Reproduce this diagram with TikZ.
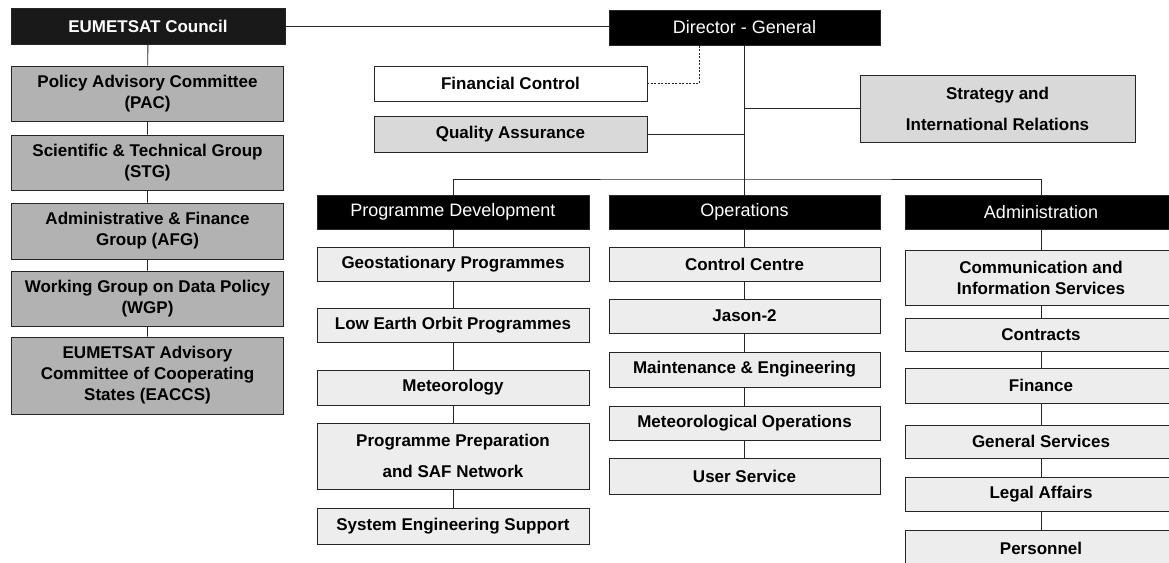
\documentclass[tikz,border=0pt]{standalone}
\usepackage{fontspec}
\setmainfont{Liberation Sans}
\usetikzlibrary{calc}
\begin{document}
\begin{tikzpicture}[x=1pt,y=-1pt,
  box/.style={draw=black!85, line width=0.9pt, inner sep=0pt, align=center,
    minimum width=272pt, font=\fontsize{17}{21}\selectfont\bfseries},
  head/.style={box, fill=black, text=white, font=\fontsize{18}{21}\selectfont},
  board/.style={box, fill=black!30},
  unit/.style={box, fill=black!7},
  staff/.style={box, fill=black!15},
  link/.style={draw=black!85, line width=0.9pt},
  dotlink/.style={link, dash pattern=on 2pt off 1.5pt},
  ]
\useasboundingbox (0,0) rectangle (1169,562);

% governing bodies
\node[head, fill=black!90, font=\fontsize{17}{21}\selectfont\bfseries,
      minimum width=274pt, minimum height=36pt] (council) at (148,26) {EUMETSAT Council};
\node[board, minimum height=55pt] (pac) at (147.5,93.5) {Policy Advisory Committee\\(PAC)};
\node[board, minimum height=55pt] (stg) at (147.5,162.5) {Scientific \& Technical Group\\(STG)};
\node[board, minimum height=56pt] (afg) at (147.5,231) {Administrative \& Finance\\Group (AFG)};
\node[board, minimum height=55pt] (wgp) at (147.5,298.5) {Working Group on Data Policy\\(WGP)};
\node[board, minimum height=77pt] (eaccs) at (147.5,375.5) {EUMETSAT Advisory\\Committee of Cooperating\\States (EACCS)};

% directorate
\node[head, minimum width=271pt, minimum height=35pt] (dg) at (744.5,27.5) {Director - General};
\node[box, fill=white, minimum width=273pt, minimum height=35pt] (fc) at (510.5,83.5) {Financial Control};
\node[staff, minimum width=273pt, minimum height=36pt] (qa) at (510.5,134) {Quality Assurance};
\node[staff, minimum width=275pt, minimum height=67pt] (sir) at (997.5,108.5) {Strategy and\\[10pt]International Relations};

% departments
\node[head, minimum height=34pt] (pd) at (453,212) {Programme Development};
\node[head, minimum width=271pt, minimum height=34pt] (ops) at (744.5,212) {Operations};
\node[head, minimum height=34pt] (adm) at (1041,212.5) {Administration};

% programme development divisions
\node[unit, minimum height=34pt] (geo) at (453,264) {Geostationary Programmes};
\node[unit, minimum height=34pt] (leo) at (453,325) {Low Earth Orbit Programmes};
\node[unit, minimum height=35pt] (met) at (453,387.5) {Meteorology};
\node[unit, minimum height=66pt] (pps) at (453,456) {Programme Preparation\\[10pt]and SAF Network};
\node[unit, minimum height=36pt] (sys) at (453,526) {System Engineering Support};

% operations divisions
\node[unit, minimum width=271pt, minimum height=34pt] (cc) at (744.5,264) {Control Centre};
\node[unit, minimum width=271pt, minimum height=34pt] (jason) at (744.5,316) {Jason-2};
\node[unit, minimum width=271pt, minimum height=35pt] (mne) at (744.5,369.5) {Maintenance \& Engineering};
\node[unit, minimum width=271pt, minimum height=34pt] (metops) at (744.5,423) {Meteorological Operations};
\node[unit, minimum width=271pt, minimum height=36pt] (us) at (744.5,476) {User Service};

% administration divisions
\node[unit, minimum height=55pt] (cis) at (1041,277.5) {Communication and\\Information Services};
\node[unit, minimum height=33pt] (contracts) at (1041,334.5) {Contracts};
\node[unit, minimum height=35pt] (finance) at (1041,385.5) {Finance};
\node[unit, minimum height=33pt] (gs) at (1041,441.5) {General Services};
\node[unit, minimum height=34pt] (legal) at (1041,494) {Legal Affairs};
\node[unit, minimum height=36pt] (personnel) at (1041,548) {Personnel};

% connectors
\coordinate (bus) at (744.5,179);
\draw[link] (council) -- (pac) -- (stg) -- (afg) -- (wgp) -- (eaccs);
\draw[link] (council.east) -- (council.east -| dg.west);
\draw[link] (dg.south) -- (bus);
\draw[link] (pd.north) |- (bus) -| (adm.north);
\draw[link] (bus) -- (ops.north);
\draw[link] (qa.east) -- (qa.east -| dg.south);
\draw[link] (sir.west) -- (sir.west -| dg.south);
\draw[dotlink] (fc.east) -| ($(dg.south)+(-45.5,0)$);
\draw[link] (pd) -- (geo) -- (leo) -- (met) -- (pps) -- (sys);
\draw[link] (ops) -- (cc) -- (jason) -- (mne) -- (metops) -- (us);
\draw[link] (adm) -- (cis) -- (contracts) -- (finance) -- (gs) -- (legal) -- (personnel);
\end{tikzpicture}
\end{document}
